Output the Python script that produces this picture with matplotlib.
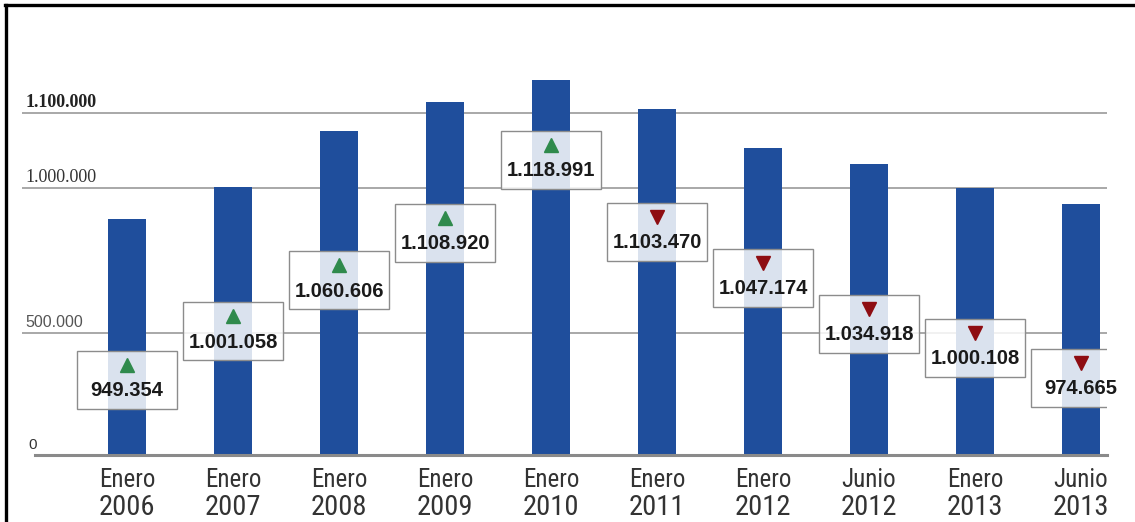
import numpy as np
import matplotlib
matplotlib.use('Agg')
import matplotlib.pyplot as plt
from matplotlib import font_manager, transforms
from matplotlib.patches import Rectangle
from matplotlib.lines import Line2D

# datos: afiliados por periodo
meses = ['Enero', 'Enero', 'Enero', 'Enero', 'Enero', 'Enero', 'Enero', 'Junio', 'Enero', 'Junio']
anios = ['2006', '2007', '2008', '2009', '2010', '2011', '2012', '2012', '2013', '2013']
valores = [949354, 1001058, 1060606, 1108920, 1118991, 1103470, 1047174, 1034918, 1000108, 974665]
tendencia = ['up', 'up', 'up', 'up', 'up', 'down', 'down', 'down', 'down', 'down']
ticks_y = [0, 500000, 1000000, 1100000]

# escala vertical "rota" del grafico (valor -> altura)
escala_v = [0, 500000, 950000, 1000000, 1030000, 1060000, 1100000, 1110000, 1120000, 1200000]
escala_h = [0, 122, 236, 267, 285, 324, 342, 354, 377, 460]

# posicion vertical de las cajas (fraccion del eje)
caja_y = [0.19, 0.313, 0.442, 0.563, 0.747, 0.565, 0.449, 0.332, 0.272, 0.195]


def pick(*names):
    for n in names:
        try:
            font_manager.findfont(n, fallback_to_default=False)
            return n
        except ValueError:
            pass
    return 'DejaVu Sans'


narrow = pick('Liberation Sans Narrow', 'Roboto Condensed', 'Liberation Sans')
sans = pick('Liberation Sans', 'DejaVu Sans')
serif = pick('Liberation Serif', 'DejaVu Serif')


def fwd(v):
    return np.interp(v, escala_v, escala_h)


def inv(h):
    return np.interp(h, escala_h, escala_v)


fig = plt.figure(figsize=(11.35, 5.22), dpi=100)
W, H = 1135, 522
ax_l, ax_r, ax_b, ax_t = 22, 1107, 455, 60
ax = fig.add_axes([ax_l / W, (H - ax_b) / H, (ax_r - ax_l) / W, (ax_b - ax_t) / H])
ax.set_yscale('function', functions=(fwd, inv))

x = np.arange(len(valores))
paso = 106
ax.set_xlim(-(127 - ax_l) / paso, len(valores) - 1 + (ax_r - 1081) / paso)
ax.set_ylim(0, inv(ax_b - ax_t))

for s in ax.spines.values():
    s.set_visible(False)
ax.set_xticks([])
ax.set_yticks([])

# lineas de referencia
for t in ticks_y[1:]:
    ax.axhline(t, color='#9a9a9a', lw=1.2, zorder=1)
ax.plot([(35 - ax_l) / (ax_r - ax_l), 1], [0, 0], transform=ax.get_yaxis_transform(),
        color='#8a8a8a', lw=2.2, zorder=3, clip_on=False)

ax.bar(x, valores, width=0.35, color='#1f4e9c', zorder=2)

# etiquetas del eje y
lab_tr = transforms.offset_copy(ax.get_yaxis_transform(), fig=fig, y=6, units='dots')
estilos = {0: ('normal', '#333333', 11, sans),
           500000: ('normal', '#555555', 11.5, sans),
           1000000: ('normal', '#333333', 13, serif),
           1100000: ('bold', '#222222', 13, serif)}
for t in ticks_y:
    w, c, fs, fam = estilos[t]
    xt = 0.006 if t == 0 else 0.003
    ax.text(xt, t, f'{t:,}'.replace(',', '.'), transform=lab_tr, ha='left', va='baseline',
            fontsize=fs, fontweight=w, color=c, family=fam)

# etiquetas del eje x
xt_tr = ax.get_xaxis_transform()
for i in x:
    ax.text(i, -(487 - ax_b) / (ax_b - ax_t), meses[i], transform=xt_tr, ha='center',
            va='baseline', fontsize=18, color='#333333', family=narrow, clip_on=False)
    ax.text(i, -(515 - ax_b) / (ax_b - ax_t), anios[i], transform=xt_tr, ha='center',
            va='baseline', fontsize=20.5, color='#333333', family=narrow, clip_on=False)

# cajas con el valor y la flecha de tendencia
alto = 58 / (ax_b - ax_t)
ancho = 100 / paso
for i in x:
    yc = caja_y[i]
    ax.add_patch(Rectangle((i - ancho / 2, yc - alto / 2), ancho, alto, transform=xt_tr,
                           facecolor='white', alpha=0.84, edgecolor='none', zorder=4))
    ax.add_patch(Rectangle((i - ancho / 2, yc - alto / 2), ancho, alto, transform=xt_tr,
                           facecolor='none', edgecolor='#8c8c8c', lw=1, zorder=5))
    if tendencia[i] == 'up':
        mk, col = '^', '#2f8a4c'
    else:
        mk, col = 'v', '#8e0d12'
    ax.plot(i, yc + alto / 2 - 14 / (ax_b - ax_t), marker=mk, color=col, ms=10,
            transform=xt_tr, zorder=6, clip_on=False)
    ax.text(i, yc + alto / 2 - 40 / (ax_b - ax_t), f'{valores[i]:,}'.replace(',', '.'),
            transform=xt_tr, ha='center', va='center', fontsize=14.5, fontweight='bold',
            color='#1a1a1a', family=sans, zorder=6)

# marco
fig.add_artist(Line2D([6 / W, 6 / W], [0, 1 - 5 / H], color='black', lw=2.4))
fig.add_artist(Line2D([5 / W, 1], [1 - 5 / H, 1 - 5 / H], color='black', lw=2.4))

fig.savefig('out.png', dpi=100)
